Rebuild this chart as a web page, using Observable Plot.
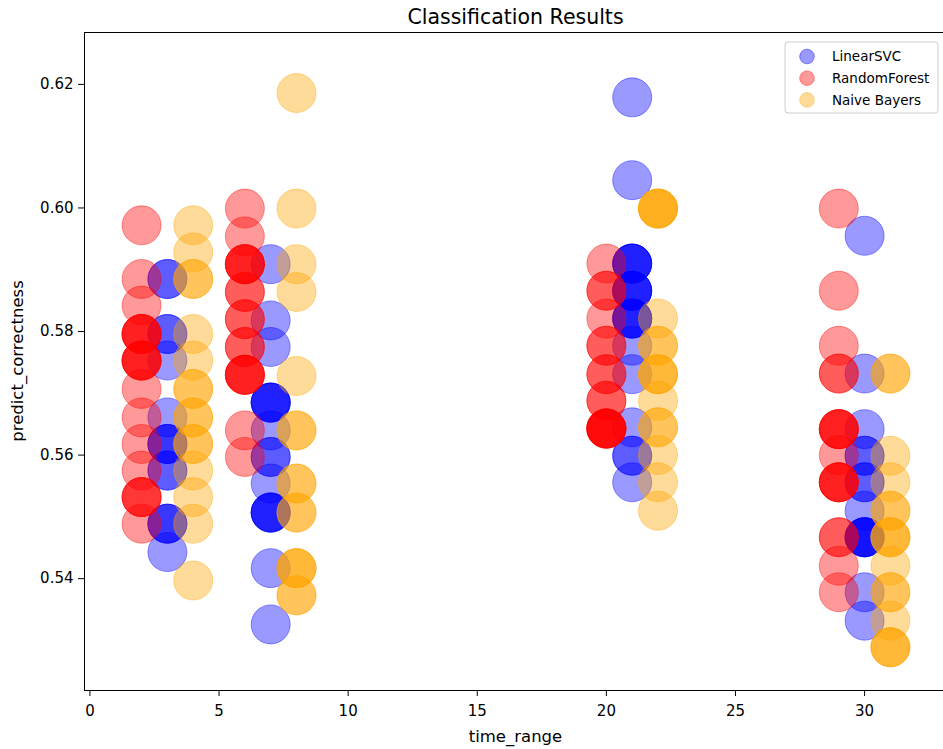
<!DOCTYPE html>
<html>
<head>
<meta charset="utf-8">
<script src="https://cdn.jsdelivr.net/npm/d3@7"></script>
<script src="https://cdn.jsdelivr.net/npm/@observablehq/plot@0.6"></script>
<style>
  body { margin: 0; background: #fff; }
  #chart { position: relative; width: 943px; height: 749px; overflow: hidden; }
</style>
</head>
<body>
<div id="chart"></div>
<script>
// Series, drawn in this order (later ones sit on top)
const seriesNames = ["LinearSVC", "RandomForest", "Naive Bayers"];
const seriesColors = ["blue", "red", "orange"];
const xTicks = [0, 5, 10, 15, 20, 25, 30];
const yTicks = [0.54, 0.56, 0.58, 0.60, 0.62];

// predict_correctness per run; repeated values are repeated runs
// LinearSVC
const svc3  = [0.5885, 0.5885, 0.5796, 0.5796, 0.5753, 0.5661, 0.5618, 0.5618, 0.5618, 0.5575, 0.5575, 0.5489, 0.5489, 0.5489, 0.5443];
const svc7  = [0.5909, 0.5818, 0.5775, 0.5685, 0.5685, 0.5685, 0.5685, 0.5640, 0.5597, 0.5597, 0.5554, 0.5507, 0.5507, 0.5507, 0.5507, 0.5417, 0.5326];
const svc21 = [0.6179, 0.6045, 0.5910, 0.5910, 0.5910, 0.5910, 0.5866, 0.5866, 0.5866, 0.5866, 0.5821, 0.5821, 0.5821, 0.5821, 0.5777, 0.5731, 0.5645, 0.5599, 0.5599, 0.5556];
const svc30 = [0.5955, 0.5732, 0.5642, 0.5599, 0.5599, 0.5556, 0.5556, 0.5510, 0.5467, 0.5467, 0.5467, 0.5467, 0.5467, 0.5378, 0.5332];

// RandomForest
const rf2  = [0.5972, 0.5885, 0.5842, 0.5796, 0.5796, 0.5796, 0.5796, 0.5753, 0.5753, 0.5753, 0.5753, 0.5707, 0.5661, 0.5618, 0.5575, 0.5532, 0.5532, 0.5532, 0.5489];
const rf6  = [0.5999, 0.5954, 0.5909, 0.5909, 0.5909, 0.5909, 0.5864, 0.5864, 0.5820, 0.5820, 0.5775, 0.5775, 0.5730, 0.5730, 0.5730, 0.5730, 0.5640, 0.5597];
const rf20 = [0.5910, 0.5866, 0.5866, 0.5821, 0.5777, 0.5777, 0.5731, 0.5731, 0.5688, 0.5688, 0.5643, 0.5643, 0.5643, 0.5643, 0.5643, 0.5643];
const rf29 = [0.5999, 0.5866, 0.5777, 0.5732, 0.5732, 0.5642, 0.5642, 0.5642, 0.5642, 0.5600, 0.5556, 0.5556, 0.5556, 0.5556, 0.5467, 0.5467, 0.5421, 0.5378];

// Naive Bayers
const nb4  = [0.5972, 0.5928, 0.5885, 0.5885, 0.5796, 0.5753, 0.5707, 0.5707, 0.5661, 0.5661, 0.5618, 0.5618, 0.5575, 0.5532, 0.5489, 0.5397];
const nb8  = [0.6186, 0.5999, 0.5909, 0.5864, 0.5728, 0.5640, 0.5640, 0.5554, 0.5554, 0.5507, 0.5507, 0.5417, 0.5417, 0.5417, 0.5373, 0.5373];
const nb22 = [0.5999, 0.5999, 0.5999, 0.5999, 0.5821, 0.5777, 0.5777, 0.5731, 0.5731, 0.5731, 0.5688, 0.5645, 0.5645, 0.5600, 0.5556, 0.5510];
const nb31 = [0.5732, 0.5732, 0.5599, 0.5556, 0.5510, 0.5510, 0.5467, 0.5467, 0.5467, 0.5421, 0.5378, 0.5378, 0.5332, 0.5289, 0.5289, 0.5289];

const groups = [
  ["LinearSVC", 3, svc3], ["LinearSVC", 7, svc7], ["LinearSVC", 21, svc21], ["LinearSVC", 30, svc30],
  ["RandomForest", 2, rf2], ["RandomForest", 6, rf6], ["RandomForest", 20, rf20], ["RandomForest", 29, rf29],
  ["Naive Bayers", 4, nb4], ["Naive Bayers", 8, nb8], ["Naive Bayers", 22, nb22], ["Naive Bayers", 31, nb31]
];
const rows = groups.flatMap(([series, t, values]) =>
  values.map(v => ({series, time_range: t, predict_correctness: v})));

const font = "DejaVu Sans, sans-serif";
const alpha = 0.4;

const dotMarks = seriesNames.map((name, i) =>
  Plot.dot(rows.filter(d => d.series === name), {
    x: "time_range",
    y: "predict_correctness",
    r: 19.5,
    fill: seriesColors[i],
    fillOpacity: alpha,
    stroke: seriesColors[i],
    strokeOpacity: alpha,
    strokeWidth: 1
  }));

const chart = Plot.plot({
  width: 943,
  height: 749,
  marginTop: 32,
  marginBottom: 59,
  marginLeft: 84,
  marginRight: -4,
  style: {fontFamily: font, fontSize: "15px", color: "#000", background: "#fff", overflow: "hidden"},
  x: {domain: [-0.21, 33.21]},
  y: {domain: [0.5219, 0.6284]},
  marks: [
    ...dotMarks,
    Plot.frame({stroke: "#000", strokeWidth: 1}),
    Plot.axisX({ticks: xTicks, tickSize: 6, tickPadding: 9, label: null, fontSize: 15}),
    Plot.axisY({ticks: yTicks, tickSize: 6, tickPadding: 5, tickFormat: d3.format(".2f"), label: null, fontSize: 15})
  ]
});

const svg = d3.select(chart);
const [x0, x1] = chart.scale("x").range;
const [y0, y1] = chart.scale("y").range;
const cx = (x0 + x1) / 2;
const cy = (y0 + y1) / 2;

// Title and axis titles, centred on the axes box
const labels = svg.append("g").attr("font-family", font).attr("fill", "#000").attr("text-anchor", "middle");
labels.append("text").attr("x", cx).attr("y", 17).attr("dy", "0.35em")
  .attr("font-size", 20.5).text("Classification Results");
labels.append("text").attr("x", cx).attr("y", 736).attr("dy", "0.35em")
  .attr("font-size", 16.5).text("time_range");
labels.append("text").attr("transform", `translate(17,${cy}) rotate(-90)`).attr("dy", "0.35em")
  .attr("font-size", 16.5).text("predict_correctness");

// Legend in the upper right corner of the axes
const legend = svg.append("g").attr("font-family", font).attr("font-size", 13.5).attr("text-anchor", "start");
legend.append("rect")
  .attr("x", 785).attr("y", 42).attr("width", 153).attr("height", 71).attr("rx", 3)
  .attr("fill", "#fff").attr("fill-opacity", 0.8)
  .attr("stroke", "#ccc").attr("stroke-width", 1);
seriesNames.forEach((name, i) => {
  const ly = 56.5 + i * 21.7;
  legend.append("circle")
    .attr("cx", 807).attr("cy", ly).attr("r", 7.3)
    .attr("fill", seriesColors[i]).attr("fill-opacity", alpha)
    .attr("stroke", seriesColors[i]).attr("stroke-opacity", alpha);
  legend.append("text")
    .attr("x", 832).attr("y", ly).attr("dy", "0.35em")
    .attr("fill", "#000")
    .text(name);
});

document.getElementById("chart").appendChild(chart);
</script>
</body>
</html>
